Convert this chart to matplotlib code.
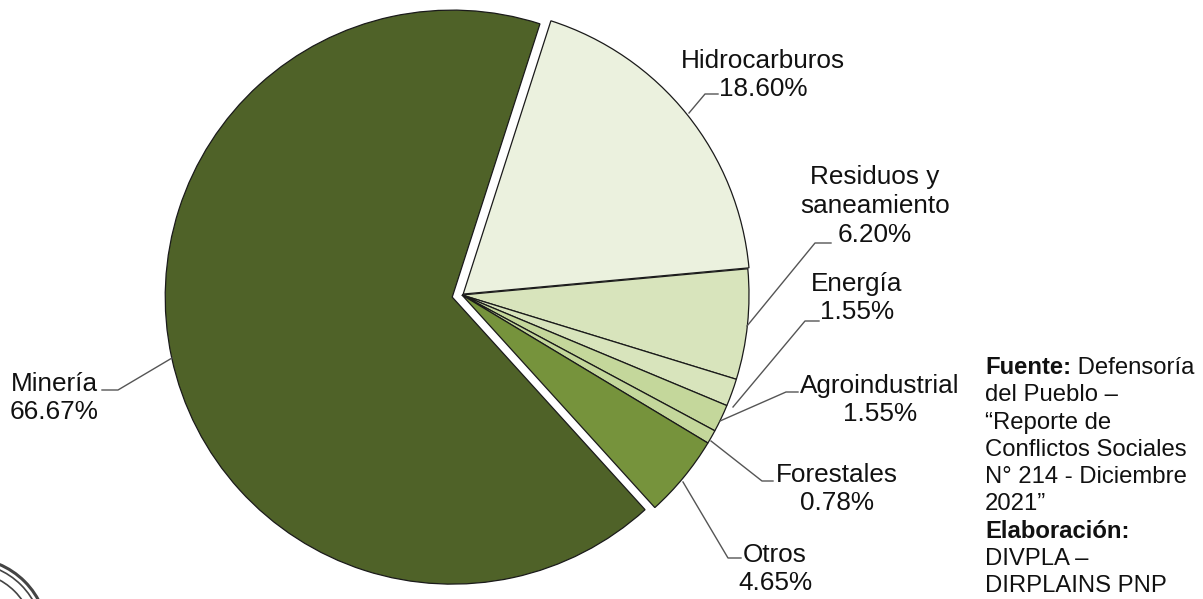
import matplotlib
matplotlib.use("Agg")
import matplotlib.pyplot as plt
from matplotlib.patches import Circle

plt.rcParams['font.family'] = ['Liberation Sans', 'DejaVu Sans']

categories = ["Hidrocarburos", "Residuos y\nsaneamiento", "Energía", "Agroindustrial", "Forestales", "Otros", "Minería"]
values = [18.60, 6.20, 1.55, 1.55, 0.78, 4.65, 66.67]
colors = ["#EBF1DE", "#D8E4BC", "#D8E4BC", "#C4D79B", "#C4D79B", "#76933C", "#4F6228"]
explode = [1.5, 0, 0, 0, 0, 0, 10.0]

W, H = 1203, 599
fig = plt.figure(figsize=(W/100, H/100), dpi=100)
ax = fig.add_axes([0, 0, 1, 1])

ax.pie(values, colors=colors, explode=explode, startangle=72.2, counterclock=False,
       center=(462, H-295), radius=287,
       wedgeprops=dict(edgecolor="#1a1a1a", linewidth=0.9), frame=True)
ax.set_xlim(0, W)
ax.set_ylim(0, H)
ax.set_aspect('equal')
ax.axis('off')

label_pos = [(763, 75), (875, 206), (857, 298), (880, 400), (837, 489), (775, 569), (54, 398)]
leaders = [
    [(689, 113), (705, 94), (718, 94)],
    [(747, 326), (815, 243), (831, 243)],
    [(733, 407), (805, 321), (819, 321)],
    [(720, 421), (786, 392), (798, 392)],
    [(711, 441), (762, 481), (773, 481)],
    [(683, 482), (728, 558), (741, 558)],
    [(172, 358), (118, 390), (102, 390)],
]
for name, v, (x, y), pts in zip(categories, values, label_pos, leaders):
    ax.text(x, H-y, f"{name}\n{v:.2f}%", ha='center', va='center', fontsize=18.8,
            linespacing=1.25, color="#111111")
    ax.plot([p[0] for p in pts], [H-p[1] for p in pts], color="#555555", lw=1.0)

source = [("Fuente:", True, " Defensoría"), ("del Pueblo –", False, ""), ("“Reporte de", False, ""),
          ("Conflictos Sociales", False, ""), ("N° 214 - Diciembre", False, ""), ("2021”", False, ""),
          ("Elaboración:", True, ""), ("DIVPLA –", False, ""), ("DIRPLAINS PNP", False, "")]
for i, (t, bold, rest) in enumerate(source):
    y = H - (368 + i*27.3)
    txt = ax.text(985, y, t, fontsize=17.2, fontweight='bold' if bold else 'normal', va='center', ha='left', color="#111111")
    if rest:
        fig.canvas.draw()
        bb = txt.get_window_extent()
        ax.text(bb.x1, y, rest, fontsize=17.2, va='center', ha='left', color="#111111")

for r, lw in [(80, 2.2), (75, 1.2), (66, 1.2)]:
    ax.add_patch(Circle((-32, H-638), r, fill=False, edgecolor="#444444", lw=lw, clip_on=True))

fig.savefig("out.png", dpi=100, facecolor="white")
